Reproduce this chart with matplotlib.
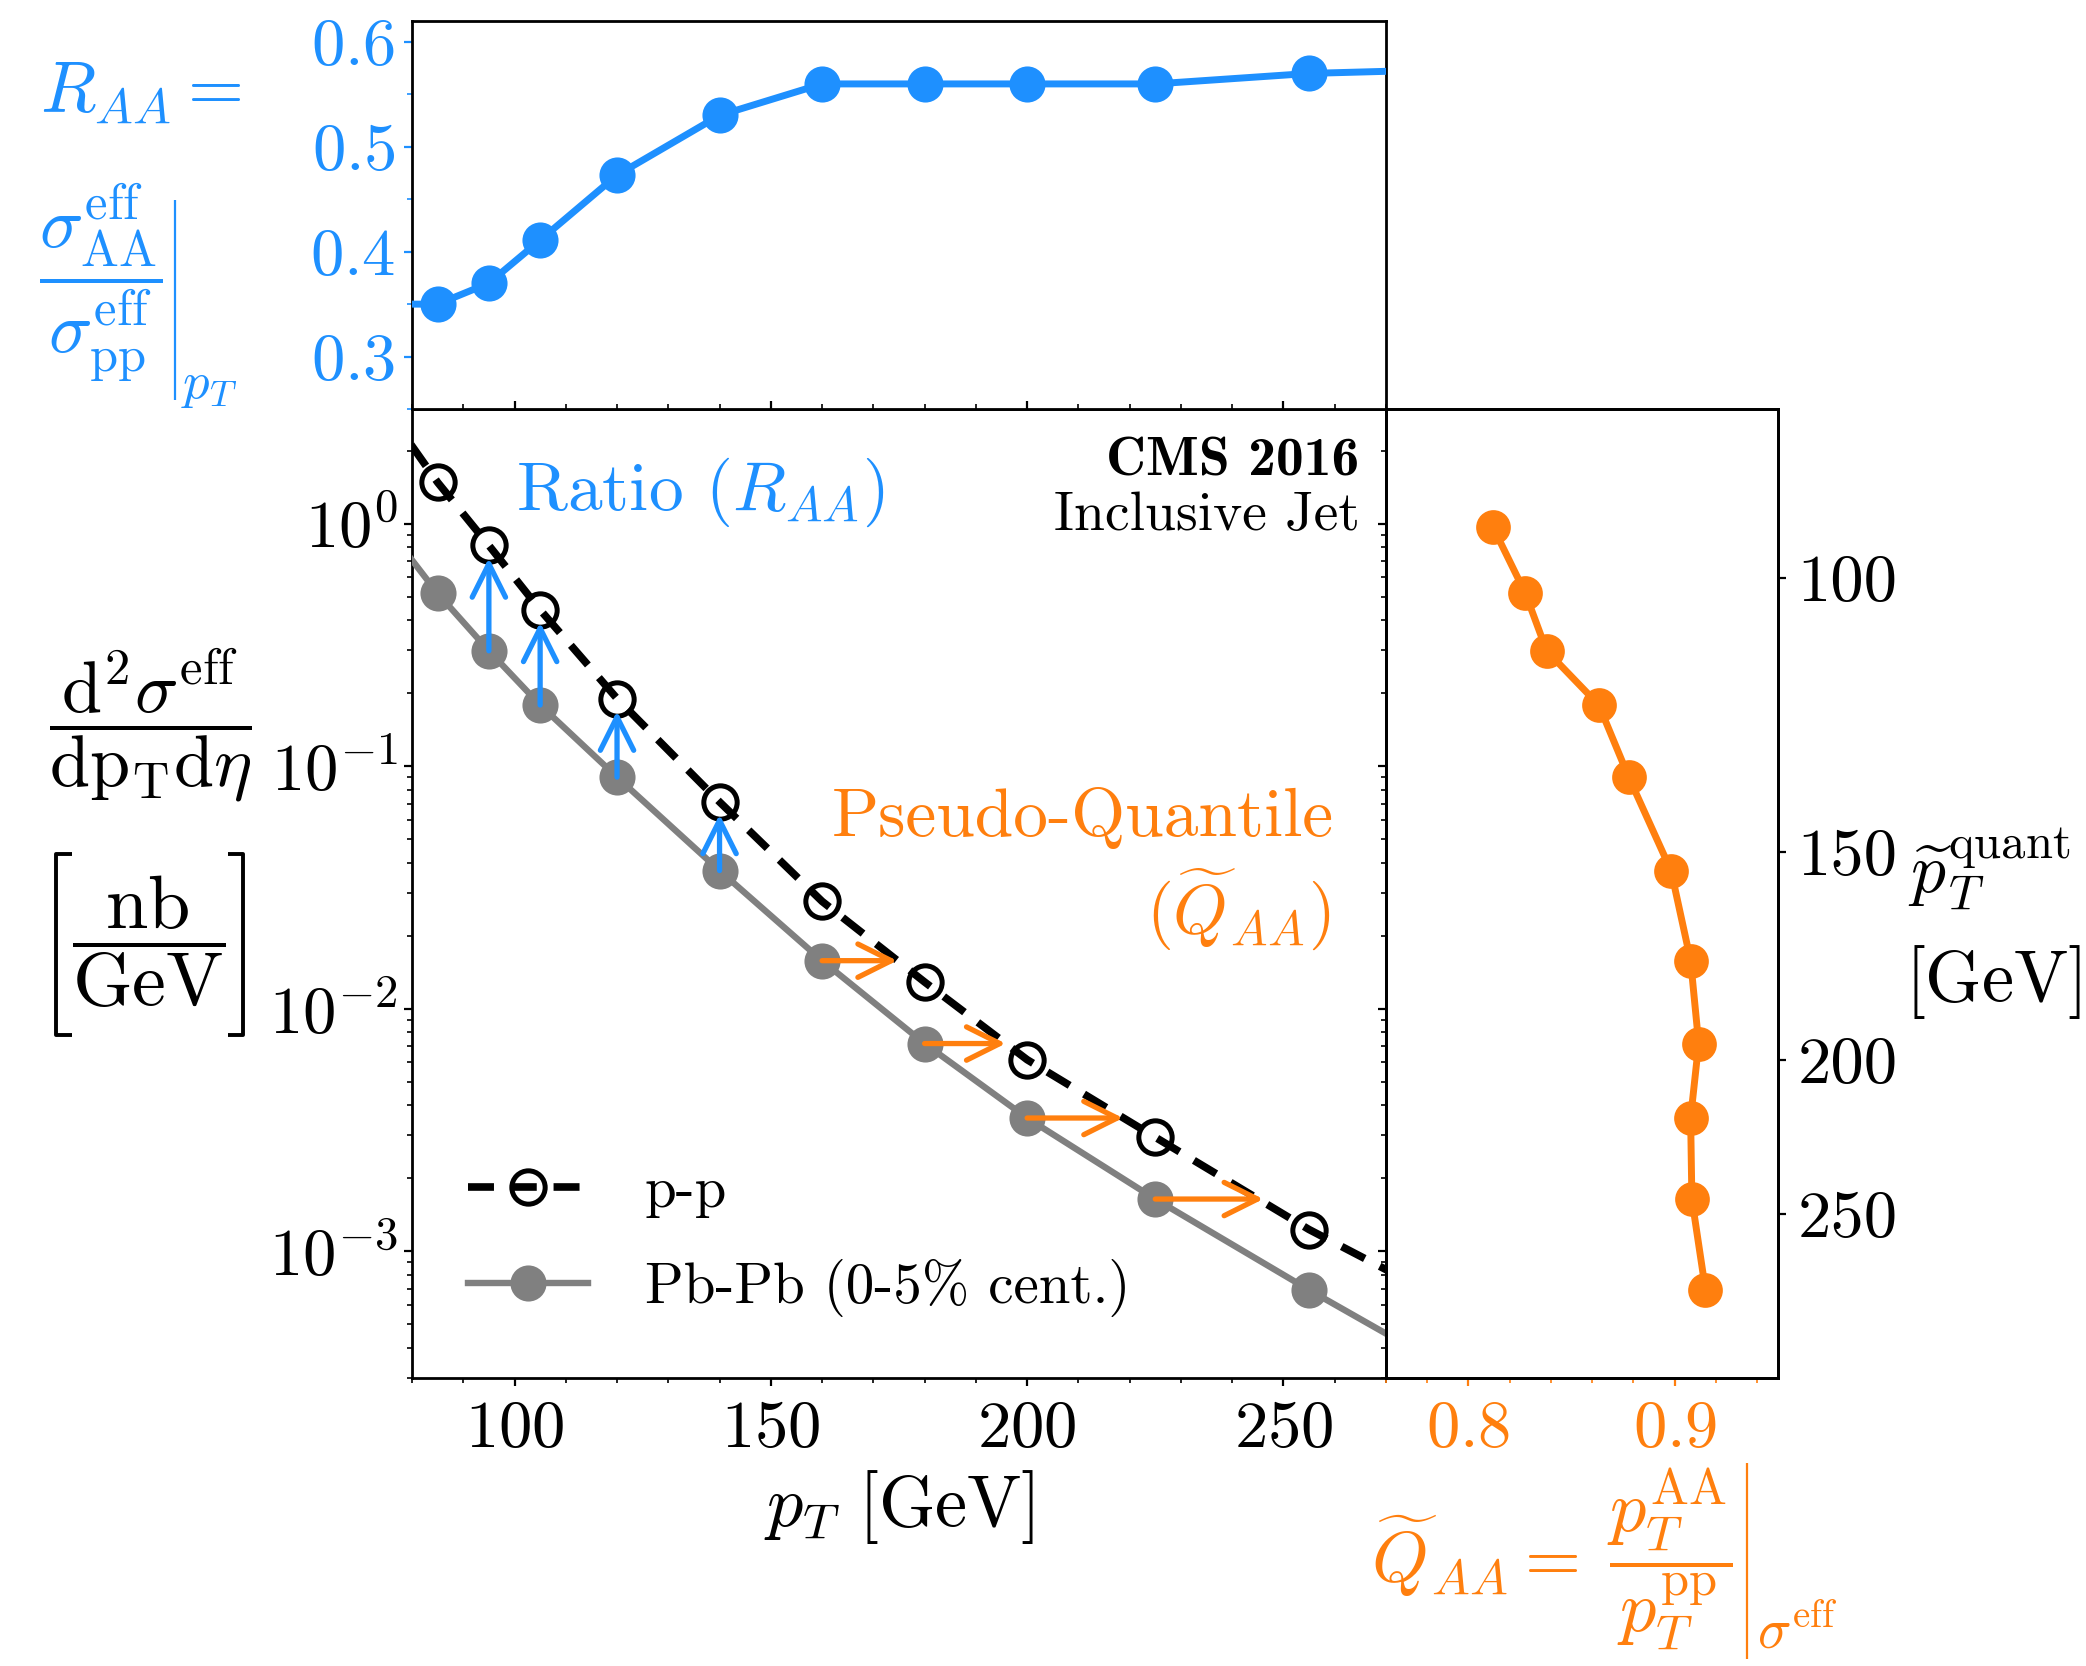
import numpy as np
import matplotlib
matplotlib.use("Agg")
import matplotlib.pyplot as plt
from matplotlib.lines import Line2D
from matplotlib.ticker import MultipleLocator, NullLocator, FixedLocator

plt.rcParams.update({
    "font.family": "serif",
    "font.serif": ["cmr10"],
    "mathtext.fontset": "cm",
    "axes.formatter.use_mathtext": True,
    "axes.linewidth": 2.0,
    "xtick.major.size": 6, "ytick.major.size": 6,
    "xtick.minor.size": 3.5, "ytick.minor.size": 3.5,
    "xtick.major.width": 1.6, "ytick.major.width": 1.6,
    "xtick.minor.width": 1.2, "ytick.minor.width": 1.2,
    "xtick.labelsize": 48, "ytick.labelsize": 48,
})

# ---------------- data ----------------
pt = [75, 85, 95, 105, 120, 140, 160, 180, 200, 225, 255, 285]
sigma_pp = [2.95, 1.48, 0.813, 0.441, 0.190, 0.0712, 0.0277, 0.01288,
            0.00616, 0.00295, 0.001228, 5.74e-4]
sigma_pbpb = [0.971, 0.516, 0.299, 0.1787, 0.0901, 0.0371, 0.01577, 0.00718,
              0.00354, 0.00164, 6.92e-4, 3.02e-4]
raa = [0.350, 0.350, 0.370, 0.411, 0.473, 0.530, 0.560, 0.560, 0.560,
       0.560, 0.570, 0.574]
q_aa = [0.8118, 0.8276, 0.8379, 0.8632, 0.8777, 0.8982, 0.9077, 0.9116,
        0.9077, 0.9083, 0.9149]
ratio_arrow_pt = [95, 105, 120, 140]
quant_arrow_pt = [160, 180, 200, 225]
quant_ticks = [100, 150, 200, 250]

BLUE = "#1E90FF"
ORANGE = "#FF7F0E"
GRAY = "#808080"

fig = plt.figure(figsize=(20.86, 16.66), dpi=100)
ax = fig.add_axes([0.1975, 0.1729, 0.4669, 0.5816])
ax.set_yscale("log")
axt = fig.add_axes([0.1975, 0.7545, 0.4669, 0.2329], sharex=ax)
axr = fig.add_axes([0.6644, 0.1729, 0.1879, 0.5816], sharey=ax)


def fig_line(xs, ys, color, lw):
    fig.add_artist(Line2D(xs, ys, transform=fig.transFigure, color=color,
                          lw=lw, solid_capstyle="butt"))


# ---------------- main panel ----------------
l_pp, = ax.plot(pt, sigma_pp, color="black", ls="--", lw=5.5, marker="o",
                ms=24, mfc="none", mec="black", mew=3.6, zorder=3,
                dashes=(3.4, 2.2))
l_pb, = ax.plot(pt, sigma_pbpb, color=GRAY, ls="-", lw=4.6, marker="o",
                ms=26, mfc=GRAY, mew=0, zorder=3)

for p in ratio_arrow_pt:
    i = pt.index(p)
    ax.annotate("", xy=(p, sigma_pp[i]), xytext=(p, sigma_pbpb[i]),
                arrowprops=dict(arrowstyle="->", color=BLUE, lw=3.8,
                                mutation_scale=60, shrinkA=0, shrinkB=9),
                zorder=5)
for p in quant_arrow_pt:
    i = pt.index(p)
    ax.annotate("", xy=(p / q_aa[i], sigma_pbpb[i]), xytext=(p, sigma_pbpb[i]),
                arrowprops=dict(arrowstyle="->", color=ORANGE, lw=3.8,
                                mutation_scale=60, shrinkA=0, shrinkB=6),
                zorder=5)

ax.set_xlim(80, 270)
ax.set_ylim(3.0e-4, 2.97)
ax.xaxis.set_major_locator(MultipleLocator(50))
ax.xaxis.set_minor_locator(MultipleLocator(10))
ax.tick_params(axis="both", which="both", direction="out")
ax.tick_params(axis="x", pad=10)
ax.tick_params(axis="y", pad=4)

ax.set_xlabel(r"$p_T\ [\mathrm{GeV}]$", fontsize=52, labelpad=6)

ax.text(0.107, 0.914, r"Ratio $(R_{AA})$", transform=ax.transAxes,
        color=BLUE, fontsize=50, ha="left", va="center")
ax.text(0.973, 0.945, "CMS 2016", transform=ax.transAxes, family="cmb10",
        fontsize=40, ha="right", va="center")
ax.text(0.973, 0.889, "Inclusive Jet", transform=ax.transAxes,
        fontsize=40, ha="right", va="center")
ax.text(0.947, 0.578, "Pseudo-Quantile", transform=ax.transAxes,
        color=ORANGE, fontsize=50, ha="right", va="center")
ax.text(0.943, 0.482, r"$(\widetilde{Q}_{AA})$", transform=ax.transAxes,
        color=ORANGE, fontsize=50, ha="right", va="center")

ax.legend([l_pp, l_pb], ["p-p", "Pb-Pb (0-5% cent.)"], loc="lower left",
          bbox_to_anchor=(0.005, 0.01), frameon=False, fontsize=41,
          handlelength=2.1, handletextpad=1.0, labelspacing=0.72)

# main y label
fig.text(0.0719, 0.5648,
         r"$\dfrac{\mathrm{d}^2\sigma^{\mathrm{eff}}}{\mathrm{dp}_{\mathrm{T}}\mathrm{d}\eta}$",
         fontsize=52, ha="center", va="center")
fig.text(0.0714, 0.4346, r"$\dfrac{\mathrm{nb}}{\mathrm{GeV}}$",
         fontsize=55, ha="center", va="center")
bx0, bx1, by0, by1, serif = 0.0268, 0.1167, 0.3787, 0.4874, 0.0075
fig_line([bx0 + serif, bx0, bx0, bx0 + serif], [by1, by1, by0, by0], "black", 2.8)
fig_line([bx1 - serif, bx1, bx1, bx1 - serif], [by1, by1, by0, by0], "black", 2.8)

# ---------------- top panel ----------------
axt.plot(pt, raa, color=BLUE, lw=5, marker="o", ms=26, mew=0, zorder=3)
axt.set_ylim(0.25, 0.62)
axt.yaxis.set_major_locator(MultipleLocator(0.1))
axt.yaxis.set_minor_locator(MultipleLocator(0.05))
axt.tick_params(axis="x", which="both", direction="in", labelbottom=False)
axt.tick_params(axis="y", which="both", colors=BLUE, pad=6)

fig.text(0.0676, 0.944, r"$R_{AA} =$", color=BLUE, fontsize=52,
         ha="center", va="center")
fig.text(0.0485, 0.830,
         r"$\dfrac{\sigma^{\mathrm{eff}}_{\mathrm{AA}}}{\sigma^{\mathrm{eff}}_{\mathrm{pp}}}$",
         color=BLUE, fontsize=52, ha="center", va="center")
fig_line([0.0840, 0.0840], [0.760, 0.880], BLUE, 1.6)
fig.text(0.1005, 0.768, r"$p_T$", color=BLUE, fontsize=38,
         ha="center", va="center")

# ---------------- right panel ----------------
axr.plot(q_aa, sigma_pbpb[:len(q_aa)], color=ORANGE, lw=5, marker="o",
         ms=25, mew=0, zorder=3)
axr.set_xlim(0.76, 0.95)
axr.xaxis.set_major_locator(MultipleLocator(0.1))
axr.xaxis.set_minor_locator(MultipleLocator(0.02))
axr.tick_params(axis="x", which="both", colors=ORANGE, pad=10)
axr.tick_params(axis="y", which="both", labelleft=False)

axr2 = axr.twinx()
axr2.set_yscale("log")
axr2.set_ylim(ax.get_ylim())
tick_pos = 10 ** np.interp(quant_ticks, pt, np.log10(sigma_pp))
axr2.yaxis.set_major_locator(FixedLocator(tick_pos))
axr2.yaxis.set_minor_locator(NullLocator())
axr2.set_yticklabels([str(v) for v in quant_ticks])
axr2.tick_params(axis="y", pad=8)

fig.text(0.9145, 0.478, r"$\widetilde{p}_T^{\mathrm{quant}}$", fontsize=50,
         ha="left", va="center")
fig.text(0.913, 0.4106, r"$[\mathrm{GeV}]$", fontsize=52,
         ha="left", va="center")

fig.text(0.657, 0.066, r"$\widetilde{Q}_{AA} =$", color=ORANGE, fontsize=52,
         ha="left", va="center")
fig.text(0.8005, 0.064,
         r"$\dfrac{p_T^{\mathrm{AA}}}{p_T^{\mathrm{pp}}}$",
         color=ORANGE, fontsize=52, ha="center", va="center")
fig_line([0.8375, 0.8375], [0.004, 0.122], ORANGE, 1.6)
fig.text(0.8615, 0.020, r"$\sigma^{\mathrm{eff}}$", color=ORANGE, fontsize=40,
         ha="center", va="center")

fig.savefig("out.png", dpi=100)
